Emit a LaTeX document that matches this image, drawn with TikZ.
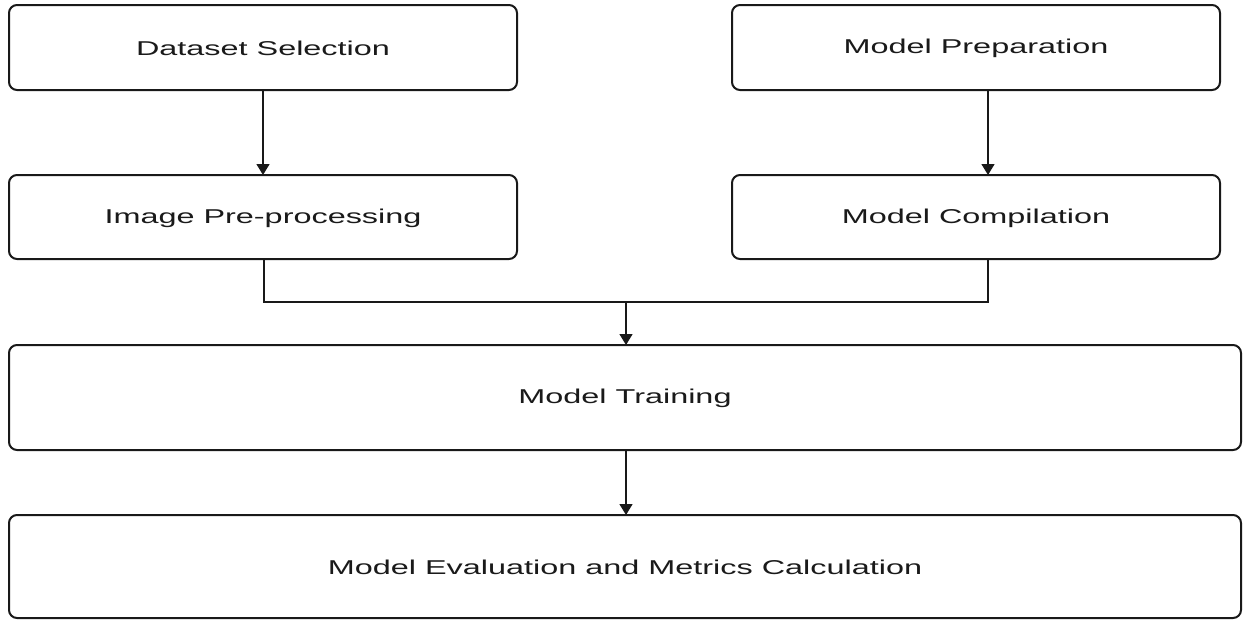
\documentclass[tikz,border=0pt]{standalone}
\usepackage{fontspec}
\setmainfont{Liberation Sans}
\usetikzlibrary{arrows.meta}
\definecolor{txt}{HTML}{1A1A1A}
\tikzset{
  stepbox/.style={draw=black!90, line width=2pt, rounded corners=8pt, inner sep=0pt, outer sep=0pt, fill=white},
  lbl/.style={text=txt},
  conn/.style={draw=black!90, line width=1.4pt},
  arr/.style={conn, -{Triangle[width=13pt,length=11pt]}},
}
\newcommand{\boxtext}[1]{\scalebox{1.62}[1]{\fontsize{20}{24}\selectfont #1}}
\begin{document}
\begin{tikzpicture}[x=1pt,y=-1pt]
\useasboundingbox (0,0) rectangle (1244,621);
\node[stepbox, minimum width=508pt, minimum height=85pt] (ds) at (263,47.5) {};
\node[lbl] at ([yshift=-1pt]ds.center) {\boxtext{Dataset Selection}};
\node[stepbox, minimum width=488pt, minimum height=85pt] (mp) at (976,47.5) {};
\node[lbl] at ([yshift=-1pt]mp.center) {\boxtext{Model Preparation}};
\node[stepbox, minimum width=508pt, minimum height=84pt] (ip) at (263,217) {};
\node[lbl] at ([yshift=-1pt]ip.center) {\boxtext{Image Pre-processing}};
\node[stepbox, minimum width=488pt, minimum height=84pt] (mc) at (976,217) {};
\node[lbl] at ([yshift=-1pt]mc.center) {\boxtext{Model Compilation}};
\node[stepbox, minimum width=1232pt, minimum height=105pt] (mt) at (625,397.5) {};
\node[lbl] at ([yshift=-1pt]mt.center) {\boxtext{Model Training}};
\node[stepbox, minimum width=1232pt, minimum height=103pt] (me) at (625,566.5) {};
\node[lbl] at ([yshift=-1pt]me.center) {\boxtext{Model Evaluation and Metrics Calculation}};
\coordinate (j) at (626,302);
\draw[arr] (ds.south) -- (ip.north);
\draw[arr] ([xshift=12pt]mp.south) -- ([xshift=12pt]mc.north);
\draw[conn] ([xshift=1pt]ip.south) |- (j) -| ([xshift=12pt]mc.south);
\draw[arr] (j) -- (j |- mt.north);
\draw[arr] (mt.south -| j) -- (me.north -| j);
\end{tikzpicture}
\end{document}
